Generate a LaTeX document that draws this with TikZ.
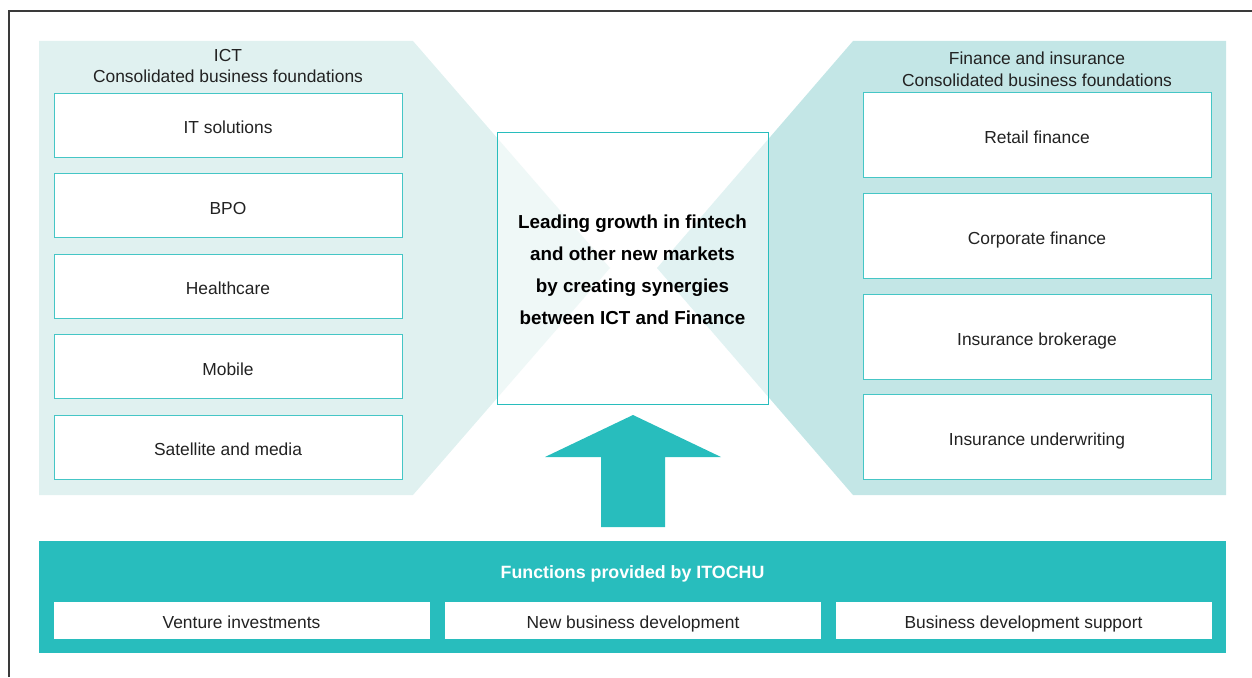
\documentclass[tikz,border=0pt]{standalone}
\usepackage{fontspec}
\setmainfont{Liberation Sans}
\definecolor{teal1}{HTML}{28BDBD}
\definecolor{edge}{HTML}{45C6C6}
\definecolor{leftbg}{HTML}{E0F1F0}
\definecolor{rightbg}{HTML}{C3E6E6}
\definecolor{txt}{HTML}{222222}
\definecolor{framec}{HTML}{3A3A3A}
\begin{document}
\begin{tikzpicture}[x=1pt,y=-1pt,
  lbl/.style={font=\fontsize{17.4}{21}\selectfont, text=txt},
  itembox/.style={draw=edge, line width=1pt, fill=white, inner sep=0pt, lbl, text height=17pt, text depth=0pt},
  leftbox/.style={itembox, minimum width=348, minimum height=64},
  rightbox/.style={itembox, minimum width=348, minimum height=85},
  funcbox/.style={itembox, draw=white, minimum width=375, minimum height=36},
  ttl/.style={lbl, anchor=base, inner sep=0pt},
  frameline/.style={draw=framec, line width=1.2pt}]
\useasboundingbox (0,0) rectangle (1252,677);
% outer frame
\draw[frameline] (9,677) -- (9,11) -- (1252,11);
% panels
\fill[leftbg] (39,41) -- (413,41) -- (610,268) -- (413,495) -- (39,495) -- cycle;
\fill[rightbg] (1226,41) -- (853,41) -- (657,268) -- (853,495) -- (1226,495) -- cycle;
% titles
\node[ttl] (lt1) at (228,61) {ICT};
\node[ttl] (lt2) at (228,82) {Consolidated business foundations};
\node[ttl] (rt1) at (1037,64) {Finance and insurance};
\node[ttl] (rt2) at (1037,86) {Consolidated business foundations};
% left boxes
\node[leftbox] (l1) at (228,125) {IT solutions};
\node[leftbox] (l2) at (228,205.5) {BPO};
\node[leftbox] (l3) at (228,286) {Healthcare};
\node[leftbox] (l4) at (228,366.5) {Mobile};
\node[leftbox] (l5) at (228,447) {Satellite and media};
% right boxes
\node[rightbox] (r1) at (1037,135) {Retail finance};
\node[rightbox] (r2) at (1037,235.5) {Corporate finance};
\node[rightbox] (r3) at (1037,336.5) {Insurance brokerage};
\node[rightbox] (r4) at (1037,437) {Insurance underwriting};
% centre box
\node[draw=teal1, line width=1pt, fill=white, fill opacity=0.5, minimum width=271, minimum height=272, inner sep=0pt] (goal) at (632.5,268) {};
\node[align=center, inner sep=0pt, font=\bfseries\fontsize{18.8}{32}\selectfont, text=black] (goaltext) at (632.5,269.5)
  {Leading growth in fintech\\and other new markets\\by creating synergies\\between ICT and Finance};
% bottom bar
\node[fill=teal1, minimum width=1187, minimum height=112, inner sep=0pt] (bar) at (632.5,597) {};
\node[font=\bfseries\fontsize{17.8}{21}\selectfont, text=white, anchor=base, inner sep=0pt] (bartitle) at (632.5,578) {Functions provided by ITOCHU};
\node[funcbox] (f1) at (241.5,620) {Venture investments};
\node[funcbox] (f2) at (633,620) {New business development};
\node[funcbox] (f3) at (1023.5,620) {Business development support};
% arrow from bar to goal
\fill[teal1] (601,527) -- (601,457) -- (545,457) -- (633,415) -- (721,457) -- (665,457) -- (665,527) -- cycle;
\end{tikzpicture}
\end{document}
